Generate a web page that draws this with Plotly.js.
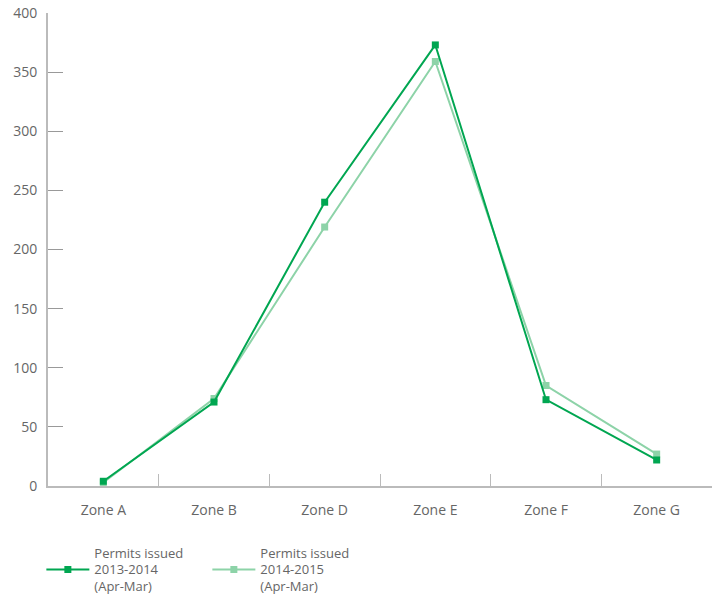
<!DOCTYPE html>
<html>
<head>
<meta charset="utf-8">
<script src="https://cdn.plot.ly/plotly-3.0.1.min.js"></script>
<style>html,body{margin:0;padding:0;background:#fff;}#chart{width:721px;height:594px;}</style>
</head>
<body>
<div id="chart"></div>
<script>
const zones = ["Zone A", "Zone B", "Zone D", "Zone E", "Zone F", "Zone G"];
const permits2013 = [4, 71, 240, 373, 73, 22];
const permits2014 = [3, 74, 219, 359, 85, 27];
const seriesNames = ["Permits issued<br>2013-2014<br>(Apr-Mar)", "Permits issued<br>2014-2015<br>(Apr-Mar)"];
const yTicks = [0, 50, 100, 150, 200, 250, 300, 350, 400];

const darkGreen = "#00A651";
const lightGreen = "#8DD3A8";

const traces = [
  {
    x: zones, y: permits2014, name: seriesNames[1], type: "scatter", mode: "lines+markers",
    line: {color: lightGreen, width: 2}, marker: {color: lightGreen, symbol: "square", size: 7},
    legendrank: 2
  },
  {
    x: zones, y: permits2013, name: seriesNames[0], type: "scatter", mode: "lines+markers",
    line: {color: darkGreen, width: 2}, marker: {color: darkGreen, symbol: "square", size: 7},
    legendrank: 1
  }
];

const layout = {
  width: 721, height: 594,
  margin: {l: 48, r: 9, t: 13, b: 108, autoexpand: false},
  paper_bgcolor: "#fff", plot_bgcolor: "#fff",
  font: {family: "Open Sans, sans-serif", size: 14, color: "#666"},
  showlegend: true,
  legend: {
    orientation: "h", x: -0.01, xanchor: "left", y: -0.109, yanchor: "top",
    font: {size: 13, color: "#666"}, traceorder: "normal",
    itemwidth: 43,
    entrywidth: 108, entrywidthmode: "pixels"
  },
  xaxis: {
    type: "category", categoryorder: "array", categoryarray: zones,
    showgrid: false, zeroline: false,
    showline: true, linecolor: "#bbb", linewidth: 2,
    ticks: "inside", tickson: "boundaries", ticklen: 12, tickcolor: "#bbb", tickwidth: 1,
    tickfont: {size: 14, color: "#666"}, range: [-0.5, 5.5],
    ticklabelstandoff: 10
  },
  yaxis: {
    range: [0, 400], tickvals: yTicks, ticktext: yTicks.map(String),
    showgrid: false, zeroline: false,
    showline: true, linecolor: "#bbb", linewidth: 2,
    ticks: "inside", ticklen: 15, tickcolor: "#999", tickwidth: 1,
    tickfont: {size: 14, color: "#666"},
    ticklabelstandoff: 6
  }
};

Plotly.newPlot("chart", traces, layout, {displayModeBar: false, staticPlot: true});
</script>
</body>
</html>
